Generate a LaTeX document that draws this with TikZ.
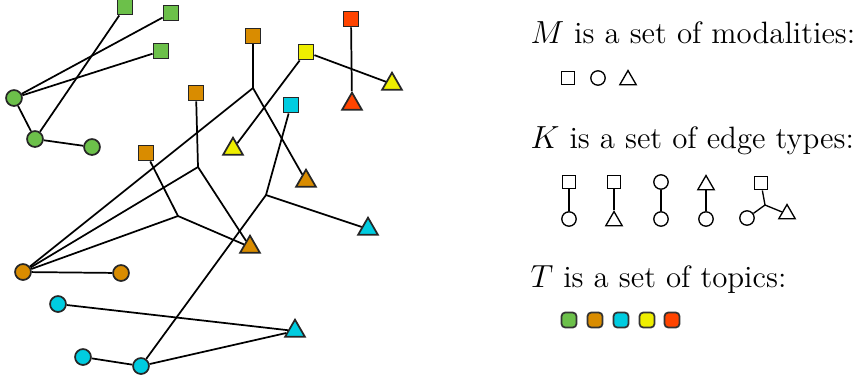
\documentclass[tikz,border=0pt]{standalone}
\usepackage{xcolor}
\usepackage{tikz}
\usetikzlibrary{shapes.geometric}
\definecolor{tgreen}{HTML}{6CC04A}
\definecolor{torange}{HTML}{D98C00}
\definecolor{tcyan}{HTML}{00CCE0}
\definecolor{tyellow}{HTML}{EEEE00}
\definecolor{tred}{HTML}{FF4400}
\tikzstyle{modsq} = [rectangle, draw=black!85, line width=0.65pt, inner sep=0pt, minimum size=0.2cm]
\tikzstyle{modci} = [circle, draw=black!85, line width=0.65pt, inner sep=0pt, minimum size=0.21cm]
\tikzstyle{modtr} = [regular polygon, regular polygon sides=3, draw=black!85, line width=0.65pt, inner sep=0pt, minimum size=0.3cm]
\tikzstyle{keysq} = [rectangle, draw=black, line width=0.5pt, inner sep=0pt, minimum size=0.18cm]
\tikzstyle{keyci} = [circle, draw=black, line width=0.5pt, inner sep=0pt, minimum size=0.19cm]
\tikzstyle{keytr} = [regular polygon, regular polygon sides=3, draw=black, line width=0.5pt, inner sep=0pt, minimum size=0.25cm]
\tikzstyle{topic} = [rectangle, rounded corners=1.5pt, draw=black!80, line width=0.65pt, inner sep=0pt, minimum size=0.2cm]
\tikzstyle{edge} = [line width=0.65pt]
\tikzstyle{keyedge} = [line width=0.5pt]
\tikzstyle{caption} = [anchor=base west, inner sep=0pt, font=\fontsize{11.6}{14}\selectfont]

\begin{document}
\begin{tikzpicture}[x=0.0132cm, y=-0.0132cm]
	\useasboundingbox (0,0) rectangle (867,379);
	
	\node (g1) [modsq, fill=tgreen] at (125,7) {};
	\node (g2) [modsq, fill=tgreen] at (171,13) {};
	\node (g3) [modsq, fill=tgreen] at (161,51) {};
	\node (g4) [modci, fill=tgreen] at (14,98) {};
	\node (g5) [modci, fill=tgreen] at (35,139) {};
	\node (g6) [modci, fill=tgreen] at (92,147) {};
	
	\draw [edge] (g4) -- (g2);
	\draw [edge] (g4) -- (g3);
	\draw [edge] (g5) -- (g1);
	\draw [edge] (g4) -- (g5);
	\draw [edge] (g5) -- (g6);
	
	\node (o1) [modsq, fill=torange] at (253,36) {};
	\node (o2) [modsq, fill=torange] at (196,93) {};
	\node (o3) [modsq, fill=torange] at (146,153) {};
	\node (o4) [modtr, fill=torange] at (306,181) {};
	\node (o5) [modtr, fill=torange] at (250,247) {};
	\node (o6) [modci, fill=torange] at (23,272) {};
	\node (o7) [modci, fill=torange] at (121,273) {};
	\coordinate (j1) at (253,88);
	\coordinate (j2) at (198,167);
	\coordinate (j3) at (178,216);
	
	\draw [edge] (o1) -- (j1);
	\draw [edge] (j1) -- (o6);
	\draw [edge] (j1) -- (o4);
	\draw [edge] (o2) -- (j2);
	\draw [edge] (j2) -- (o6);
	\draw [edge] (j2) -- (o5);
	\draw [edge] (o3) -- (j3);
	\draw [edge] (j3) -- (o6);
	\draw [edge] (j3) -- (o5);
	\draw [edge] (o6) -- (o7);
	
	\node (y1) [modsq, fill=tyellow] at (306,52) {};
	\node (y2) [modtr, fill=tyellow] at (233,149) {};
	\node (y3) [modtr, fill=tyellow] at (392,84) {};
	
	\draw [edge] (y1) -- (y2);
	\draw [edge] (y1) -- (y3);
	
	\node (r1) [modsq, fill=tred] at (351,19) {};
	\node (r2) [modtr, fill=tred] at (352,104) {};
	
	\draw [edge] (r1) -- (r2);
	
	\node (c1) [modsq, fill=tcyan] at (291,105) {};
	\node (c2) [modtr, fill=tcyan] at (368,229) {};
	\node (c3) [modtr, fill=tcyan] at (295,331) {};
	\node (c4) [modci, fill=tcyan] at (58,304) {};
	\node (c5) [modci, fill=tcyan] at (83,357) {};
	\node (c6) [modci, fill=tcyan] at (141,366) {};
	\coordinate (jc) at (266,195);
	
	\draw [edge] (c1) -- (jc);
	\draw [edge] (jc) -- (c2);
	\draw [edge] (jc) -- (c6);
	\draw [edge] (c4) -- (c3);
	\draw [edge] (c6) -- (c3);
	\draw [edge] (c5) -- (c6);
	
	\node (capM) [caption] at (530,43) {$M$ is a set of modalities:};
	\node (m1) [keysq] at (568,78) {};
	\node (m2) [keyci] at (598,78) {};
	\node (m3) [keytr] at (628,80) {};
	
	\node (capK) [caption] at (530,148) {$K$ is a set of edge types:};
	\node (k1a) [keysq] at (569,182) {};
	\node (k1b) [keyci] at (569,219) {};
	\node (k2a) [keysq] at (614,182) {};
	\node (k2b) [keytr] at (614,221) {};
	\node (k3a) [keyci] at (661,182) {};
	\node (k3b) [keyci] at (661,219) {};
	\node (k4a) [keytr] at (706,185) {};
	\node (k4b) [keyci] at (706,219) {};
	\node (k5a) [keysq] at (761,183) {};
	\node (k5b) [keyci] at (747,218) {};
	\node (k5c) [keytr] at (787,214) {};
	\coordinate (k5j) at (765,205);
	
	\draw [keyedge] (k1a) -- (k1b);
	\draw [keyedge] (k2a) -- (k2b);
	\draw [keyedge] (k3a) -- (k3b);
	\draw [keyedge] (k4a) -- (k4b);
	\draw [keyedge] (k5a) -- (k5j);
	\draw [keyedge] (k5j) -- (k5b);
	\draw [keyedge] (k5j) -- (k5c);
	
	\node (capT) [caption] at (530,287) {$T$ is a set of topics:};
	\node (t1) [topic, fill=tgreen] at (569,320) {};
	\node (t2) [topic, fill=torange] at (595,320) {};
	\node (t3) [topic, fill=tcyan] at (621,320) {};
	\node (t4) [topic, fill=tyellow] at (647,320) {};
	\node (t5) [topic, fill=tred] at (672,320) {};
	
\end{tikzpicture}
\end{document}
